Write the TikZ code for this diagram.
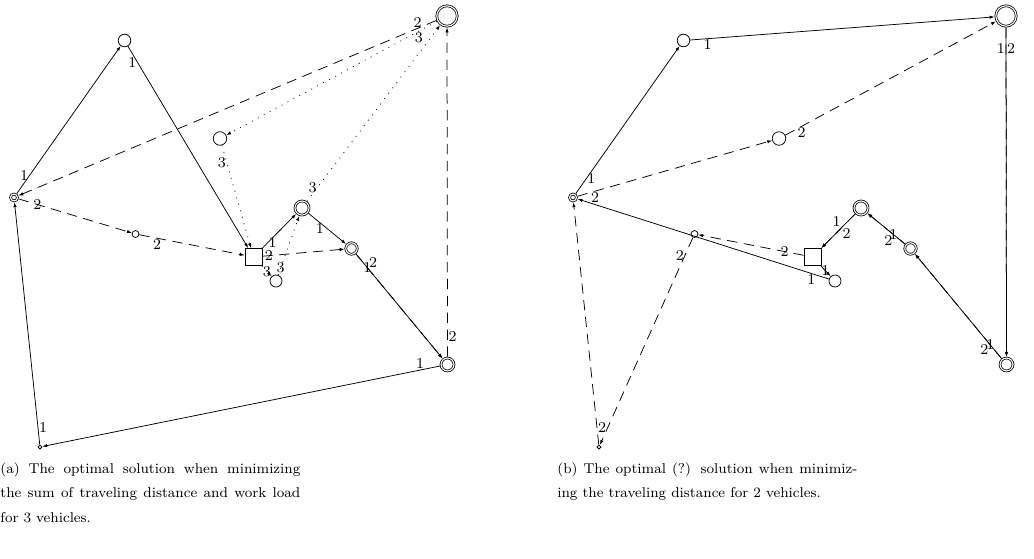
\documentclass[tikz,border=0pt]{standalone}
\usepackage{tikz}
\usetikzlibrary{arrows.meta}

\tikzset{
  cust/.style={circle, draw, inner sep=0pt},
  dcust/.style={cust, double, double distance=0.6pt, outer sep=0.7pt},
  depot/.style={rectangle, draw, inner sep=0pt, minimum size=9.1pt},
  lbl/.style={font=\footnotesize, inner sep=0.4pt},
  route1/.style={-{Latex[length=2.6pt,width=1.8pt]}},
  route2/.style={route1, dash pattern=on 5.5pt off 3.5pt},
  route3/.style={route1, dash pattern=on 0.5pt off 3.1pt},
  capt/.style={anchor=north west, inner sep=0pt, align=justify, text width=160pt,
    font=\fontsize{7.6pt}{13.2pt}\selectfont},
}

\begin{document}
\begin{tikzpicture}[x=0.5333pt, y=-0.5333pt]
  \useasboundingbox (0,0) rectangle (1034,558);

  % (a) three vehicles
  \node[depot] (a0) at (253.5,257) {};
  \node[cust, minimum size=6.7pt] (a1) at (124.5,40.5) {};
  \node[dcust, minimum size=10.9pt] (a2) at (447,16) {};
  \node[dcust, minimum size=3.7pt] (a3) at (14,197.5) {};
  \node[cust, minimum size=7.2pt] (a4) at (220,138.5) {};
  \node[cust, minimum size=3.7pt] (a5) at (135.5,234) {};
  \node[dcust, minimum size=7.5pt] (a6) at (302,208) {};
  \node[dcust, minimum size=6.1pt] (a7) at (351.5,248.5) {};
  \node[cust, minimum size=6.4pt] (a8) at (276,281) {};
  \node[dcust, minimum size=6.9pt] (a9) at (447.5,364.5) {};
  \node[cust, minimum size=2.1pt] (a10) at (40,447) {};

  \draw[route1] (a0) -- node[lbl, pos=.15, right] {1} (a6);
  \draw[route1] (a6) -- node[lbl, pos=.3, below] {1} (a7);
  \draw[route1] (a7) -- node[lbl, pos=.13] {1} (a9);
  \draw[route1] (a9) -- node[lbl, pos=.05, above] {1} (a10);
  \draw[route1] (a10) -- node[lbl, pos=.07, right] {1} (a3);
  \draw[route1] (a3) -- node[lbl, pos=.12, left] {1} (a1);
  \draw[route1] (a1) -- node[lbl, pos=.08, left] {1} (a0);

  \draw[route2] (a0) -- node[lbl, pos=.08] {2} (a7);
  \draw[route2] (a7) -- node[lbl, pos=.14, above right] {2} (a9);
  \draw[route2] (a9) -- node[lbl, pos=.06, right] {2} (a2);
  \draw[route2] (a2) -- node[lbl, pos=.045, above] {2} (a3);
  \draw[route2] (a3) -- node[lbl, pos=.165] {2} (a5);
  \draw[route2] (a5) -- node[lbl, pos=.17, below] {2} (a0);

  \draw[route3] (a0) -- node[lbl, pos=.52] {3} (a8);
  \draw[route3] (a8) -- node[lbl, pos=.12] {3} (a6);
  \draw[route3] (a6) -- node[lbl, pos=.08, left] {3} (a2);
  \draw[route3] (a2) -- node[lbl, pos=.085, below] {3} (a4);
  \draw[route3] (a4) -- node[lbl, pos=.17, left] {3} (a0);

  \node[capt] (capa) at (0,462)
    {(a) The optimal solution when minimizing\linebreak the sum of traveling distance and work load\linebreak for 3 vehicles.};

  % (b) two vehicles
  \begin{scope}[shift={(559,0)}]
    \node[depot] (b0) at (253.5,257) {};
    \node[cust, minimum size=6.7pt] (b1) at (124.5,40.5) {};
    \node[dcust, minimum size=10.9pt] (b2) at (447,16) {};
    \node[dcust, minimum size=3.7pt] (b3) at (14,197.5) {};
    \node[cust, minimum size=7.2pt] (b4) at (220,138.5) {};
    \node[cust, minimum size=3.7pt] (b5) at (135.5,234) {};
    \node[dcust, minimum size=7.5pt] (b6) at (302,208) {};
    \node[dcust, minimum size=6.1pt] (b7) at (351.5,248.5) {};
    \node[cust, minimum size=6.4pt] (b8) at (276,281) {};
    \node[dcust, minimum size=6.9pt] (b9) at (447.5,364.5) {};
    \node[cust, minimum size=2.1pt] (b10) at (40,447) {};
  \end{scope}

  \draw[route1] (b0) -- node[lbl, pos=.47] {1} (b8);
  \draw[route1] (b8) -- node[lbl, pos=.07, below] {1} (b3);
  \draw[route1] (b3) -- node[lbl, pos=.1, right] {1} (b1);
  \draw[route1] (b1) -- node[lbl, pos=.057, below] {1} (b2);
  \draw[route1] (b2) -- node[lbl, pos=.064, left] {1} (b9);
  \draw[route1] (b9) -- node[lbl, pos=.13] {1} (b7);
  \draw[route1] (b7) -- node[lbl, pos=.31] {1} (b6);
  \draw[route1] (b6) -- node[lbl, pos=.4, above left] {1} (b0);

  \draw[route2] (b0) -- node[lbl, pos=.18] {2} (b5);
  \draw[route2] (b5) -- node[lbl, pos=.087, left] {2} (b10);
  \draw[route2] (b10) -- node[lbl, pos=.07, right] {2} (b3);
  \draw[route2] (b3) -- node[lbl, pos=.09, below] {2} (b4);
  \draw[route2] (b4) -- node[lbl, pos=.077, below] {2} (b2);
  \draw[route2] (b2) -- node[lbl, pos=.064, right] {2} (b9);
  \draw[route2] (b9) -- node[lbl, pos=.14, below left] {2} (b7);
  \draw[route2] (b7) -- node[lbl, pos=.31, below left] {2} (b6);
  \draw[route2] (b6) -- node[lbl, pos=.4, below right] {2} (b0);

  \node[capt] (capb) at (557,462)
    {(b) The optimal (?) solution when minimiz-\linebreak ing the traveling distance for 2 vehicles.};
\end{tikzpicture}
\end{document}
